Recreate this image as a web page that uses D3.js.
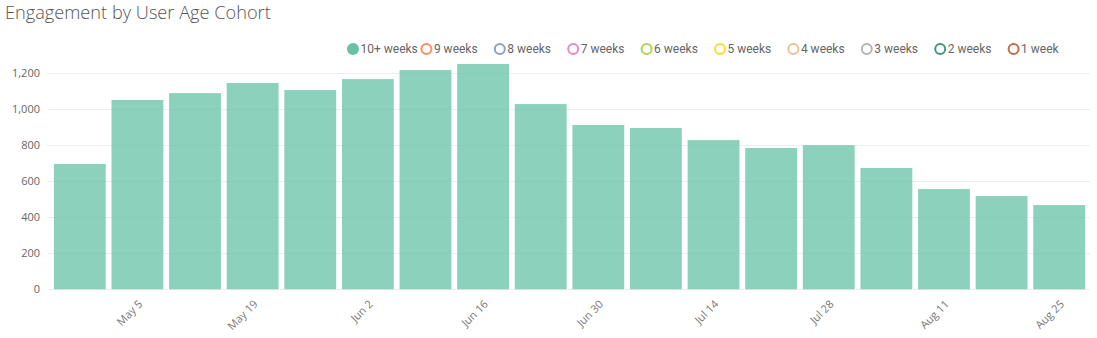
<!DOCTYPE html>
<html>
<head>
<meta charset="utf-8">
<script src="https://cdn.jsdelivr.net/npm/d3@7/dist/d3.min.js"></script>
<style>
  html, body { margin: 0; padding: 0; background: #fff; }
  svg { display: block; }
</style>
</head>
<body>
<svg id="chart" width="1097" height="338"></svg>
<script>
// Weekly engagement, 10+ weeks cohort
const weeks = ["Apr 28", "May 5", "May 12", "May 19", "May 26", "Jun 2", "Jun 9", "Jun 16", "Jun 23",
  "Jun 30", "Jul 7", "Jul 14", "Jul 21", "Jul 28", "Aug 4", "Aug 11", "Aug 18", "Aug 25"];
const engagement = [696, 1052, 1090, 1146, 1107, 1168, 1218, 1252, 1029,
  913, 896, 829, 785, 801, 674, 557, 518, 468];
const weekTicks = ["May 5", "May 19", "Jun 2", "Jun 16", "Jun 30", "Jul 14", "Jul 28", "Aug 11", "Aug 25"];
const yTicks = [0, 200, 400, 600, 800, 1000, 1200];

// Cohort legend
const cohorts = ["10+ weeks", "9 weeks", "8 weeks", "7 weeks", "6 weeks", "5 weeks", "4 weeks", "3 weeks", "2 weeks", "1 week"];
const cohortColors = ["#66c2a5", "#fc8d62", "#8da0cb", "#e78ac3", "#a6d854", "#ffd92f", "#e5c494", "#b3b3b3", "#3f9a78", "#c86a44"];

const svg = d3.select("#chart");

const x = d3.scaleBand()
  .domain(weeks)
  .range([51, 1088])
  .paddingInner(0.1)
  .paddingOuter(0.05);

const y = d3.scaleLinear()
  .domain([0, 1200])
  .range([289.3, 73.3]);

// Title
svg.append("text")
  .attr("x", 5)
  .attr("y", 19)
  .attr("font-family", "'Open Sans', sans-serif")
  .attr("font-size", 18.2)
  .attr("font-weight", 300)
  .attr("fill", "#555")
  .text("Engagement by User Age Cohort");

// Gridlines
svg.append("g")
  .selectAll("line")
  .data(yTicks)
  .join("line")
  .attr("x1", 48)
  .attr("x2", 1090)
  .attr("y1", d => Math.round(y(d)) + 0.5)
  .attr("y2", d => Math.round(y(d)) + 0.5)
  .attr("stroke", "#eeeeee")
  .attr("stroke-width", 1);

// Y axis labels
const yAxis = d3.axisLeft(y)
  .tickValues(yTicks)
  .tickSize(0)
  .tickPadding(0)
  .tickFormat(d3.format(","));
svg.append("g")
  .attr("transform", "translate(40,0)")
  .call(yAxis)
  .call(g => g.select(".domain").remove())
  .call(g => g.selectAll("text")
    .attr("font-family", "'Open Sans', sans-serif")
    .attr("font-size", 11)
    .attr("fill", "#666"));

// Bars
svg.append("g")
  .selectAll("rect")
  .data(weeks.map((w, i) => ({ week: w, value: engagement[i] })))
  .join("rect")
  .attr("x", d => x(d.week))
  .attr("width", x.bandwidth())
  .attr("y", d => y(d.value))
  .attr("height", d => y(0) - y(d.value))
  .attr("fill", "#66c2a5")
  .attr("fill-opacity", 0.75);

// X axis labels, rotated
const xAxis = d3.axisBottom(x)
  .tickValues(weekTicks)
  .tickSize(0)
  .tickPadding(0);
svg.append("g")
  .attr("transform", "translate(0,289)")
  .call(xAxis)
  .call(g => g.select(".domain").remove())
  .call(g => g.selectAll("text")
    .attr("font-family", "'Open Sans', sans-serif")
    .attr("font-size", 11)
    .attr("fill", "#777")
    .attr("text-anchor", "end")
    .attr("dy", "0.35em")
    .attr("transform", "translate(3,13) rotate(-45)"));

// Legend
const legend = svg.append("g")
  .selectAll("g")
  .data(cohorts)
  .join("g")
  .attr("transform", (d, i) => `translate(${353 + i * 73.4},49)`);

legend.append("circle")
  .attr("r", (d, i) => i === 0 ? 6 : 5)
  .attr("fill", (d, i) => i === 0 ? cohortColors[i] : "none")
  .attr("stroke", (d, i) => cohortColors[i])
  .attr("stroke-width", (d, i) => i === 0 ? 0 : 2);

legend.append("text")
  .attr("x", 7.5)
  .attr("dy", "0.35em")
  .attr("font-family", "Roboto, sans-serif")
  .attr("font-size", 12)
  .attr("fill", "#666")
  .text(d => d);
</script>
</body>
</html>
